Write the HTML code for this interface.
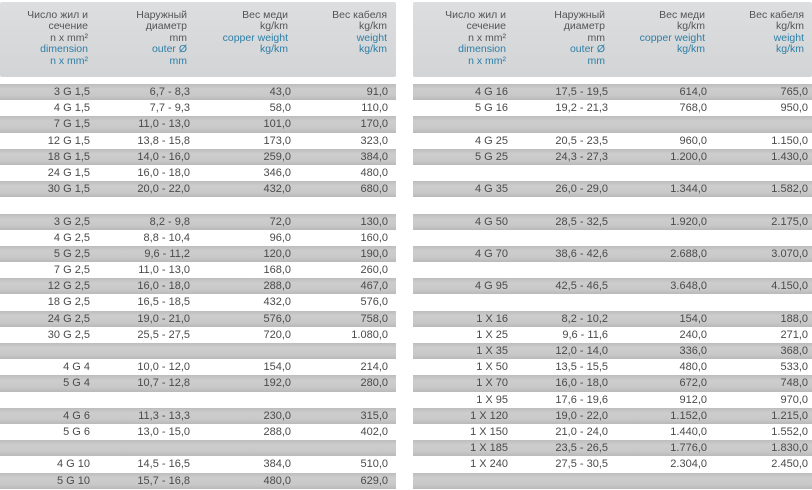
<!DOCTYPE html>
<html><head><meta charset="utf-8"><style>
body{margin:0;width:812px;height:490px;background:#fff;overflow:hidden;font-family:"Liberation Sans",sans-serif;color:#4a4a4a;position:relative}
.hd{position:absolute;top:2px;height:75px;background:linear-gradient(#dcdee0,#d2d4d6);border-radius:2px}
.hc{position:absolute;top:10px;text-align:right;font-size:10.5px;line-height:11.4px;color:#555}
.b{color:#2e7fa6}
.tb{position:absolute;top:84px}
.r{height:16.2px;position:relative;font-size:11px;line-height:16.2px}
.g{background:linear-gradient(#bdbdbd,#cdcdcd 30%,#c9c9c9 70%,#b9b9b9)}
.r span{position:absolute;text-align:right;white-space:nowrap}
</style></head><body>
<div class="hd" style="left:0;width:396px"></div>
<div class="hd" style="left:413px;width:399px"></div>

<div class="hc" style="right:724px">Число жил и<br>сечение<br>n x mm²<br><span class="b">dimension<br>n x mm²</span></div>
<div class="hc" style="right:625px">Наружный<br>диаметр<br>mm<br><span class="b">outer Ø<br>mm</span></div>
<div class="hc" style="right:524px">Вес меди<br>kg/km<br><span class="b">copper weight<br>kg/km</span></div>
<div class="hc" style="right:425px">Вес кабеля<br>kg/km<br><span class="b">weight<br>kg/km</span></div>

<div class="hc" style="right:306px">Число жил и<br>сечение<br>n x mm²<br><span class="b">dimension<br>n x mm²</span></div>
<div class="hc" style="right:207px">Наружный<br>диаметр<br>mm<br><span class="b">outer Ø<br>mm</span></div>
<div class="hc" style="right:107px">Вес меди<br>kg/km<br><span class="b">copper weight<br>kg/km</span></div>
<div class="hc" style="right:8px">Вес кабеля<br>kg/km<br><span class="b">weight<br>kg/km</span></div>

<div class="tb" style="left:0;width:396px">
<div class="r g"><span style="right:306px">3 G 1,5</span><span style="right:206px">6,7 - 8,3</span><span style="right:105px">43,0</span><span style="right:8px">91,0</span></div>
<div class="r"><span style="right:306px">4 G 1,5</span><span style="right:206px">7,7 - 9,3</span><span style="right:105px">58,0</span><span style="right:8px">110,0</span></div>
<div class="r g"><span style="right:306px">7 G 1,5</span><span style="right:206px">11,0 - 13,0</span><span style="right:105px">101,0</span><span style="right:8px">170,0</span></div>
<div class="r"><span style="right:306px">12 G 1,5</span><span style="right:206px">13,8 - 15,8</span><span style="right:105px">173,0</span><span style="right:8px">323,0</span></div>
<div class="r g"><span style="right:306px">18 G 1,5</span><span style="right:206px">14,0 - 16,0</span><span style="right:105px">259,0</span><span style="right:8px">384,0</span></div>
<div class="r"><span style="right:306px">24 G 1,5</span><span style="right:206px">16,0 - 18,0</span><span style="right:105px">346,0</span><span style="right:8px">480,0</span></div>
<div class="r g"><span style="right:306px">30 G 1,5</span><span style="right:206px">20,0 - 22,0</span><span style="right:105px">432,0</span><span style="right:8px">680,0</span></div>
<div class="r"></div>
<div class="r g"><span style="right:306px">3 G 2,5</span><span style="right:206px">8,2 - 9,8</span><span style="right:105px">72,0</span><span style="right:8px">130,0</span></div>
<div class="r"><span style="right:306px">4 G 2,5</span><span style="right:206px">8,8 - 10,4</span><span style="right:105px">96,0</span><span style="right:8px">160,0</span></div>
<div class="r g"><span style="right:306px">5 G 2,5</span><span style="right:206px">9,6 - 11,2</span><span style="right:105px">120,0</span><span style="right:8px">190,0</span></div>
<div class="r"><span style="right:306px">7 G 2,5</span><span style="right:206px">11,0 - 13,0</span><span style="right:105px">168,0</span><span style="right:8px">260,0</span></div>
<div class="r g"><span style="right:306px">12 G 2,5</span><span style="right:206px">16,0 - 18,0</span><span style="right:105px">288,0</span><span style="right:8px">467,0</span></div>
<div class="r"><span style="right:306px">18 G 2,5</span><span style="right:206px">16,5 - 18,5</span><span style="right:105px">432,0</span><span style="right:8px">576,0</span></div>
<div class="r g"><span style="right:306px">24 G 2,5</span><span style="right:206px">19,0 - 21,0</span><span style="right:105px">576,0</span><span style="right:8px">758,0</span></div>
<div class="r"><span style="right:306px">30 G 2,5</span><span style="right:206px">25,5 - 27,5</span><span style="right:105px">720,0</span><span style="right:8px">1.080,0</span></div>
<div class="r g"></div>
<div class="r"><span style="right:306px">4 G 4</span><span style="right:206px">10,0 - 12,0</span><span style="right:105px">154,0</span><span style="right:8px">214,0</span></div>
<div class="r g"><span style="right:306px">5 G 4</span><span style="right:206px">10,7 - 12,8</span><span style="right:105px">192,0</span><span style="right:8px">280,0</span></div>
<div class="r"></div>
<div class="r g"><span style="right:306px">4 G 6</span><span style="right:206px">11,3 - 13,3</span><span style="right:105px">230,0</span><span style="right:8px">315,0</span></div>
<div class="r"><span style="right:306px">5 G 6</span><span style="right:206px">13,0 - 15,0</span><span style="right:105px">288,0</span><span style="right:8px">402,0</span></div>
<div class="r g"></div>
<div class="r"><span style="right:306px">4 G 10</span><span style="right:206px">14,5 - 16,5</span><span style="right:105px">384,0</span><span style="right:8px">510,0</span></div>
<div class="r g"><span style="right:306px">5 G 10</span><span style="right:206px">15,7 - 16,8</span><span style="right:105px">480,0</span><span style="right:8px">629,0</span></div>
</div>

<div class="tb" style="left:413px;width:399px">
<div class="r g"><span style="right:304px">4 G 16</span><span style="right:204px">17,5 - 19,5</span><span style="right:105px">614,0</span><span style="right:4px">765,0</span></div>
<div class="r"><span style="right:304px">5 G 16</span><span style="right:204px">19,2 - 21,3</span><span style="right:105px">768,0</span><span style="right:4px">950,0</span></div>
<div class="r g"></div>
<div class="r"><span style="right:304px">4 G 25</span><span style="right:204px">20,5 - 23,5</span><span style="right:105px">960,0</span><span style="right:4px">1.150,0</span></div>
<div class="r g"><span style="right:304px">5 G 25</span><span style="right:204px">24,3 - 27,3</span><span style="right:105px">1.200,0</span><span style="right:4px">1.430,0</span></div>
<div class="r"></div>
<div class="r g"><span style="right:304px">4 G 35</span><span style="right:204px">26,0 - 29,0</span><span style="right:105px">1.344,0</span><span style="right:4px">1.582,0</span></div>
<div class="r"></div>
<div class="r g"><span style="right:304px">4 G 50</span><span style="right:204px">28,5 - 32,5</span><span style="right:105px">1.920,0</span><span style="right:4px">2.175,0</span></div>
<div class="r"></div>
<div class="r g"><span style="right:304px">4 G 70</span><span style="right:204px">38,6 - 42,6</span><span style="right:105px">2.688,0</span><span style="right:4px">3.070,0</span></div>
<div class="r"></div>
<div class="r g"><span style="right:304px">4 G 95</span><span style="right:204px">42,5 - 46,5</span><span style="right:105px">3.648,0</span><span style="right:4px">4.150,0</span></div>
<div class="r"></div>
<div class="r g"><span style="right:304px">1 X 16</span><span style="right:204px">8,2 - 10,2</span><span style="right:105px">154,0</span><span style="right:4px">188,0</span></div>
<div class="r"><span style="right:304px">1 X 25</span><span style="right:204px">9,6 - 11,6</span><span style="right:105px">240,0</span><span style="right:4px">271,0</span></div>
<div class="r g"><span style="right:304px">1 X 35</span><span style="right:204px">12,0 - 14,0</span><span style="right:105px">336,0</span><span style="right:4px">368,0</span></div>
<div class="r"><span style="right:304px">1 X 50</span><span style="right:204px">13,5 - 15,5</span><span style="right:105px">480,0</span><span style="right:4px">533,0</span></div>
<div class="r g"><span style="right:304px">1 X 70</span><span style="right:204px">16,0 - 18,0</span><span style="right:105px">672,0</span><span style="right:4px">748,0</span></div>
<div class="r"><span style="right:304px">1 X 95</span><span style="right:204px">17,6 - 19,6</span><span style="right:105px">912,0</span><span style="right:4px">970,0</span></div>
<div class="r g"><span style="right:304px">1 X 120</span><span style="right:204px">19,0 - 22,0</span><span style="right:105px">1.152,0</span><span style="right:4px">1.215,0</span></div>
<div class="r"><span style="right:304px">1 X 150</span><span style="right:204px">21,0 - 24,0</span><span style="right:105px">1.440,0</span><span style="right:4px">1.552,0</span></div>
<div class="r g"><span style="right:304px">1 X 185</span><span style="right:204px">23,5 - 26,5</span><span style="right:105px">1.776,0</span><span style="right:4px">1.830,0</span></div>
<div class="r"><span style="right:304px">1 X 240</span><span style="right:204px">27,5 - 30,5</span><span style="right:105px">2.304,0</span><span style="right:4px">2.450,0</span></div>
<div class="r g"></div>
</div>
</body></html>
